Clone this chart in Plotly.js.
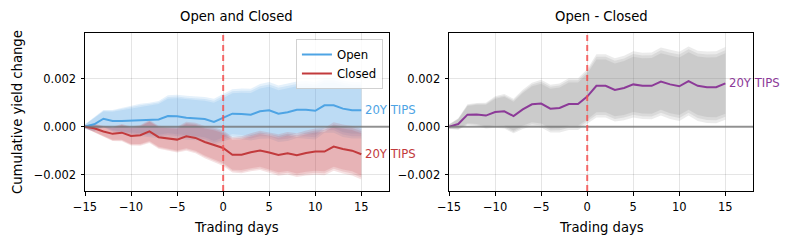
<!DOCTYPE html>
<html>
<head>
<meta charset="utf-8">
<script src="https://cdn.plot.ly/plotly-3.0.1.min.js"></script>
<style>html,body{margin:0;padding:0;background:#fff;}#chart{width:793px;height:244px;}</style>
</head>
<body>
<div id="chart"></div>
<script>
// ---- data ----
const days = [-15,-14,-13,-12,-11,-10,-9,-8,-7,-6,-5,-4,-3,-2,-1,0,1,2,3,4,5,6,7,8,9,10,11,12,13,14,15];
const openVals = [0,0.0001,0.00033,0.00024,0.00024,0.00025,0.00029,0.00028,0.0003,0.00044,0.00043,0.00037,0.00035,0.00032,0.0002,0.00036,0.00054,0.00053,0.0005,0.00064,0.00068,0.00054,0.0006,0.0007,0.0007,0.00066,0.00089,0.00089,0.00075,0.00068,0.00068];
const closedVals = [0,-0.00007,-0.0002,-0.0003,-0.00025,-0.00039,-0.00036,-0.0002,-0.00044,-0.0005,-0.00054,-0.0004,-0.00047,-0.00064,-0.00075,-0.00089,-0.00117,-0.00117,-0.00107,-0.00099,-0.00108,-0.00118,-0.00111,-0.00119,-0.0011,-0.00104,-0.00104,-0.00083,-0.00093,-0.001,-0.00115];
const diffVals = [0,0.00011,0.0005,0.00051,0.00046,0.00061,0.00064,0.00044,0.00072,0.00093,0.00096,0.00075,0.00078,0.00094,0.00094,0.00125,0.0017,0.0017,0.00153,0.00161,0.00176,0.0017,0.0017,0.00188,0.00176,0.00168,0.0019,0.0017,0.00164,0.00164,0.0018];
const openHW = [0.00008,0.00025,0.0003,0.00038,0.00045,0.0005,0.00055,0.0006,0.00064,0.00072,0.00075,0.00076,0.00076,0.00076,0.0008,0.00082,0.00085,0.00088,0.0009,0.00095,0.00098,0.00098,0.001,0.00098,0.001,0.001,0.00095,0.00095,0.00098,0.00098,0.00098];
const closedHW = [0.00005,0.00015,0.0002,0.00025,0.0003,0.00033,0.00036,0.0004,0.0004,0.00042,0.00045,0.0005,0.00053,0.00056,0.0006,0.00062,0.00062,0.00064,0.00066,0.00068,0.0007,0.00072,0.00074,0.00076,0.00078,0.0008,0.00082,0.00084,0.00085,0.00086,0.00088];
const diffHW = [0.00008,0.0002,0.00036,0.0004,0.00045,0.00055,0.0006,0.0006,0.00068,0.00075,0.00083,0.00083,0.00085,0.0009,0.0009,0.00095,0.0011,0.0011,0.0011,0.00112,0.00115,0.00115,0.00116,0.00118,0.0012,0.0012,0.0012,0.00122,0.00124,0.00125,0.00126];
const bandScales = [1.2, 1.1, 1.0];
const seriesLabel = "20Y TIPS";
const titles = ["Open and Closed", "Open - Closed"];
const xTicks = [-15,-10,-5,0,5,10,15];
const yTicks = [-0.002,0,0.002];

// ---- styling ----
const FONT = "DejaVu Sans, sans-serif";
const cBlue = "rgb(78,164,228)", cRed = "rgb(194,58,60)", cPurple = "rgb(140,58,152)";
const fBlue = "rgba(80,160,230,0.15)", fRed = "rgba(192,57,60,0.145)", fGray = "rgba(128,128,128,0.155)";

const traces = [];
function addBands(vals, hw, fill, xa, ya) {
  bandScales.forEach(s => {
    traces.push({x: days, y: vals.map((v,i)=>v - s*hw[i]), xaxis: xa, yaxis: ya, type: "scatter", mode: "lines",
      line: {width: 0, color: "rgba(0,0,0,0)"}, showlegend: false, hoverinfo: "skip"});
    traces.push({x: days, y: vals.map((v,i)=>v + s*hw[i]), xaxis: xa, yaxis: ya, type: "scatter", mode: "lines",
      line: {width: 0, color: "rgba(0,0,0,0)"}, fill: "tonexty", fillcolor: fill, showlegend: false, hoverinfo: "skip"});
  });
}
addBands(openVals, openHW, fBlue, "x", "y");
addBands(closedVals, closedHW, fRed, "x", "y");
addBands(diffVals, diffHW, fGray, "x2", "y2");
traces.push({x: days, y: openVals, xaxis: "x", yaxis: "y", type: "scatter", mode: "lines", name: "Open", line: {color: cBlue, width: 2}});
traces.push({x: days, y: closedVals, xaxis: "x", yaxis: "y", type: "scatter", mode: "lines", name: "Closed", line: {color: cRed, width: 2}});
traces.push({x: days, y: diffVals, xaxis: "x2", yaxis: "y2", type: "scatter", mode: "lines", name: "Open - Closed", showlegend: false, line: {color: cPurple, width: 2}});

const axBase = {
  showline: true, mirror: true, linecolor: "#000", linewidth: 1,
  ticks: "outside", ticklen: 3.5, tickwidth: 1, tickcolor: "#000", ticklabelstandoff: 2,
  showgrid: true, gridcolor: "rgba(0,0,0,0.1)", gridwidth: 1, zeroline: false,
  tickfont: {family: FONT, size: 11.5, color: "#000"}
};
const xa = Object.assign({}, axBase, {range: [-15, 18], tickmode: "array", tickvals: xTicks});
const ya = Object.assign({}, axBase, {range: [-0.00268, 0.0039], tickmode: "array", tickvals: yTicks, tickformat: ".3f"});

const last = days[days.length-1];
const annotations = [
  {xref: "x domain", yref: "paper", x: 0.5, y: 1, yanchor: "bottom", yshift: 7, text: titles[0], showarrow: false, font: {family: FONT, size: 13.2, color: "#000"}},
  {xref: "x2 domain", yref: "paper", x: 0.5, y: 1, yanchor: "bottom", yshift: 7, text: titles[1], showarrow: false, font: {family: FONT, size: 13.2, color: "#000"}},
  {xref: "x domain", yref: "paper", x: 0.5, y: -0.228, yanchor: "middle", text: "Trading days", showarrow: false, font: {family: FONT, size: 13.2, color: "#000"}},
  {xref: "x2 domain", yref: "paper", x: 0.5, y: -0.228, yanchor: "middle", text: "Trading days", showarrow: false, font: {family: FONT, size: 13.2, color: "#000"}},
  {xref: "paper", yref: "paper", x: -0.1018, y: 0.5, xanchor: "center", yanchor: "middle", textangle: -90, text: "Cumulative yield change", showarrow: false, font: {family: FONT, size: 13.2, color: "#000"}},
  {xref: "x", yref: "y", x: last, y: openVals[openVals.length-1], xanchor: "left", xshift: 2, text: seriesLabel, showarrow: false, font: {family: FONT, size: 11.7, color: cBlue}},
  {xref: "x", yref: "y", x: last, y: closedVals[closedVals.length-1], xanchor: "left", xshift: 2, text: seriesLabel, showarrow: false, font: {family: FONT, size: 11.7, color: cRed}},
  {xref: "x2", yref: "y2", x: last, y: diffVals[diffVals.length-1], xanchor: "left", xshift: 2, text: seriesLabel, showarrow: false, font: {family: FONT, size: 11.7, color: cPurple}}
];

const shapes = [];
[["x","y"],["x2","y2"]].forEach(([xr, yr]) => {
  shapes.push({type: "line", layer: "above", xref: xr + " domain", yref: yr, x0: 0, x1: 1, y0: 0, y1: 0, line: {color: "rgba(115,115,115,0.75)", width: 2}});
  shapes.push({type: "line", layer: "above", xref: xr, yref: yr + " domain", x0: 0, x1: 0, y0: 0, y1: 1, line: {color: "rgba(245,80,80,0.85)", width: 2, dash: "6px,4px"}});
});

const layout = {
  width: 793, height: 244,
  margin: {l: 85, r: 40, t: 33, b: 53},
  paper_bgcolor: "#fff", plot_bgcolor: "#fff",
  font: {family: FONT, color: "#000"},
  xaxis: Object.assign({}, xa, {domain: [0, 0.455], anchor: "y"}),
  yaxis: Object.assign({}, ya, {domain: [0, 1], anchor: "x"}),
  xaxis2: Object.assign({}, xa, {domain: [0.545, 1], anchor: "y2"}),
  yaxis2: Object.assign({}, ya, {domain: [0, 1], anchor: "x2"}),
  showlegend: true,
  legend: {x: 0.446, y: 0.962, xanchor: "right", yanchor: "top", bgcolor: "rgba(255,255,255,0.85)",
    bordercolor: "rgba(0,0,0,0.18)", borderwidth: 1, itemwidth: 30, tracegroupgap: 0, traceorder: "normal",
    font: {family: FONT, size: 11.7, color: "#000"}},
  annotations: annotations,
  shapes: shapes
};

Plotly.newPlot("chart", traces, layout, {staticPlot: true, displayModeBar: false});
</script>
</body>
</html>
